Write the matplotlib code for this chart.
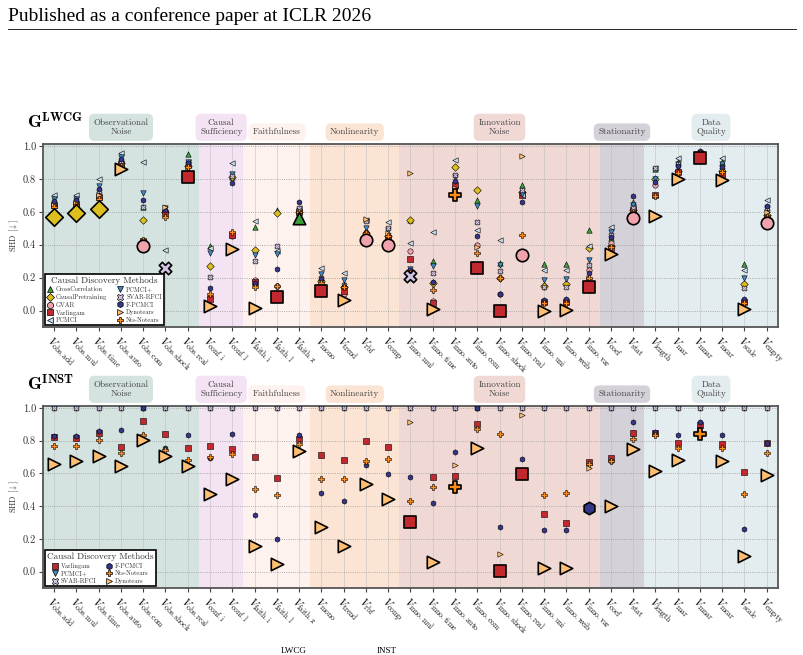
import numpy as np
import matplotlib.pyplot as plt
from matplotlib.lines import Line2D
from matplotlib.transforms import ScaledTranslation, blended_transform_factory

plt.rcParams['mathtext.fontset'] = 'cm'
plt.rcParams['font.family'] = 'cmr10'
plt.rcParams['axes.formatter.use_mathtext'] = True

# x categories (data-generating variants)
variants = ['obs.add', 'obs.mul', 'obs.time', 'obs.auto', 'obs.com', 'obs.shock', 'obs.real',
            'conf.i', 'conf.l', 'faith.i', 'faith.l', 'faith.z',
            'mono', 'trend', 'rbf', 'comp',
            'inno.mul', 'inno.time', 'inno.auto', 'inno.com', 'inno.shock', 'inno.real',
            'inno.uni', 'inno.weib', 'inno.var',
            'coef', 'stat',
            'length', 'mar', 'mnar', 'mcar', 'scale', 'empty']

group_names = ['Observational\nNoise', 'Causal\nSufficiency', 'Faithfulness', 'Nonlinearity',
               'Innovation\nNoise', 'Stationarity', 'Data\nQuality']
group_sizes = [7, 2, 3, 4, 9, 2, 6]
group_colors = ['#d5e3e0', '#f3e3f3', '#fdf2ee', '#fbe4d3', '#f0d9d5', '#d4d1d8', '#e3ecee']

# SHD values, G^LWCG panel
lwcg_crosscorr = [0.66, 0.66, 0.70, 0.90, 0.63, 0.62, 0.95, 0.39, 0.81, 0.51, 0.61, 0.56, 0.20, 0.16, 0.48, 0.46,
                  0.55, 0.30, 0.76, 0.67, 0.29, 0.76, 0.28, 0.28, 0.49, 0.44, 0.66, 0.86, 0.90, 0.96, 0.90, 0.28, 0.62]
lwcg_causalpre = [0.57, 0.59, 0.615, 0.895, 0.55, 0.60, 0.88, 0.27, 0.81, 0.37, 0.59, 0.60, 0.18, 0.14, 0.47, 0.45,
                  0.55, 0.17, 0.87, 0.73, 0.20, 0.72, 0.15, 0.16, 0.38, 0.39, 0.61, 0.80, 0.85, 0.95, 0.85, 0.16, 0.58]
lwcg_gvar = [0.64, 0.65, 0.69, 0.88, 0.39, 0.60, 0.88, 0.08, 0.45, 0.185, 0.15, 0.59, 0.15, 0.10, 0.43, 0.40,
             0.36, 0.06, 0.75, 0.40, 0.10, 0.34, 0.06, 0.06, 0.245, 0.41, 0.56, 0.76, 0.84, 0.94, 0.82, 0.06, 0.53]
lwcg_varlingam = [0.64, 0.65, 0.69, 0.89, 0.42, 0.59, 0.81, 0.067, 0.46, 0.175, 0.083, 0.60, 0.118, 0.12, 0.46, 0.44,
                  0.316, 0.047, 0.76, 0.26, 0.0, 0.70, 0.05, 0.05, 0.14, 0.38, 0.61, 0.70, 0.84, 0.925, 0.83, 0.05, 0.56]
lwcg_pcmci = [0.70, 0.70, 0.80, 0.96, 0.905, 0.37, 0.90, 0.38, 0.895, 0.546, 0.36, 0.62, 0.26, 0.23, 0.55, 0.535,
              0.41, 0.475, 0.915, 0.49, 0.428, 0.70, 0.245, 0.245, 0.394, 0.505, 0.63, 0.868, 0.925, 0.96, 0.925, 0.245, 0.671]
lwcg_pcmciplus = [0.675, 0.68, 0.757, 0.93, 0.712, 0.62, 0.90, 0.347, 0.83, 0.337, 0.343, 0.605, 0.22, 0.185, 0.503, 0.49,
                  0.255, 0.27, 0.813, 0.635, 0.276, 0.708, 0.185, 0.19, 0.31, 0.475, 0.64, 0.797, 0.888, 0.96, 0.888, 0.195, 0.62]
lwcg_svarrfci = [0.655, 0.665, 0.726, 0.91, 0.627, 0.26, 0.89, 0.205, 0.82, 0.298, 0.39, 0.62, 0.20, 0.155, 0.544, 0.503,
                 0.21, 0.23, 0.823, 0.535, 0.24, 0.732, 0.144, 0.144, 0.276, 0.46, 0.625, 0.868, 0.89, 0.95, 0.87, 0.134, 0.62]
lwcg_fpcmci = [0.665, 0.67, 0.74, 0.92, 0.67, 0.61, 0.895, 0.134, 0.773, 0.168, 0.25, 0.657, 0.19, 0.144, 0.48, 0.45,
               0.245, 0.174, 0.787, 0.45, 0.10, 0.661, 0.063, 0.067, 0.23, 0.448, 0.696, 0.783, 0.88, 0.97, 0.874, 0.067, 0.635]
lwcg_dynotears = [0.64, 0.655, 0.70, 0.86, 0.41, 0.63, 0.87, 0.03, 0.375, 0.018, 0.10, 0.60, 0.14, 0.063, 0.556, 0.47,
                  0.838, 0.012, 0.746, 0.387, 0.02, 0.94, 0.0, 0.006, 0.20, 0.343, 0.60, 0.576, 0.80, 0.95, 0.793, 0.012, 0.60]
lwcg_ntsnotears = [0.63, 0.64, 0.675, 0.88, 0.43, 0.57, 0.875, 0.10, 0.48, 0.144, 0.148, 0.60, 0.168, 0.14, 0.47, 0.45,
                   0.23, 0.124, 0.70, 0.35, 0.20, 0.458, 0.043, 0.047, 0.20, 0.387, 0.60, 0.698, 0.838, 0.96, 0.84, 0.043, 0.57]

# SHD values, G^INST panel
inst_varlingam = [0.823, 0.817, 0.847, 0.759, 0.918, 0.843, 0.757, 0.769, 0.747, 0.699, 0.572, 0.809, 0.713, 0.683, 0.797, 0.759,
                  0.301, 0.578, 0.586, 0.904, 0.006, 0.596, 0.351, 0.297, 0.669, 0.697, 0.847, 0.847, 0.787, 0.894, 0.779, 0.608, 0.787]
inst_pcmciplus = [1.0] * 33
inst_svarrfci = [1.0] * 33
inst_fpcmci = [0.83, 0.83, 0.857, 0.863, 1.0, 0.757, 0.837, 0.697, 0.839, 0.347, 0.20, 0.837, 0.482, 0.432, 0.653, 0.596,
               0.576, 0.422, 0.733, 1.0, 0.275, 0.689, 0.255, 0.255, 0.388, 0.673, 0.914, 0.853, 0.837, 0.914, 0.833, 0.261, 0.787]
inst_ntsnotears = [0.767, 0.769, 0.803, 0.727, 0.833, 0.743, 0.683, 0.699, 0.717, 0.502, 0.468, 0.777, 0.566, 0.566, 0.677, 0.687,
                   0.432, 0.516, 0.518, 0.873, 0.839, 0.61, 0.468, 0.482, 0.659, 0.673, 0.813, 0.833, 0.753, 0.843, 0.753, 0.476, 0.723]
inst_dynotears = [0.659, 0.677, 0.707, 0.643, 0.803, 0.709, 0.643, 0.476, 0.568, 0.157, 0.046, 0.739, 0.275, 0.157, 0.536, 0.446,
                  0.914, 0.056, 0.653, 0.753, 0.11, 0.954, 0.02, 0.02, 0.633, 0.398, 0.747, 0.612, 0.683, 0.85, 0.673, 0.094, 0.592]

# marker / colour per method
styles = {
    'CrossCorrelation': ('^', '#3a9e3a'),
    'CausalPretraining': ('D', '#dcbe1e'),
    'GVAR': ('o', '#f0a3ac'),
    'Varlingam': ('s', '#c1292f'),
    'PCMCI': ('<', '#c9ddee'),
    'PCMCI+': ('v', '#3f88c5'),
    'SVAR-RFCI': ('X', '#d3c3e3'),
    'F-PCMCI': ('h', '#35358a'),
    'Dynotears': ('>', '#ffbf73'),
    'Nts-Notears': ('P', '#ff8c1a'),
}

lwcg = {
    'CrossCorrelation': lwcg_crosscorr, 'CausalPretraining': lwcg_causalpre, 'GVAR': lwcg_gvar,
    'Varlingam': lwcg_varlingam, 'PCMCI': lwcg_pcmci, 'PCMCI+': lwcg_pcmciplus,
    'SVAR-RFCI': lwcg_svarrfci, 'F-PCMCI': lwcg_fpcmci, 'Dynotears': lwcg_dynotears,
    'Nts-Notears': lwcg_ntsnotears,
}
inst = {
    'Varlingam': inst_varlingam, 'PCMCI+': inst_pcmciplus, 'SVAR-RFCI': inst_svarrfci,
    'F-PCMCI': inst_fpcmci, 'Nts-Notears': inst_ntsnotears, 'Dynotears': inst_dynotears,
}


def draw_panel(fig, ax, data, title, title_y):
    x = np.arange(len(variants))
    blend = blended_transform_factory(ax.transData, ax.transAxes)
    lift = ScaledTranslation(0, 5.5 / 72, fig.dpi_scale_trans)

    # shaded groups with their labels on top
    start = -0.5
    for name, n, col in zip(group_names, group_sizes, group_colors):
        ax.axvspan(start, start + n, color=col, lw=0, zorder=0)
        ax.text(start + n / 2, 1.0, name, transform=blend + lift, ha='center', va='bottom',
                fontsize=6.5, color='#444444', linespacing=1.2,
                bbox=dict(boxstyle='round,pad=0.5,rounding_size=0.6', fc=col, ec='none'))
        start += n

    names = list(data.keys())
    vals = np.array([data[m] for m in names])
    best = np.argmin(vals, axis=0)

    for i, m in enumerate(names):
        mk, col = styles[m]
        keep = best != i
        ax.scatter(x[keep], vals[i][keep], marker=mk, s=15, c=col, edgecolors='black',
                   linewidths=0.4, zorder=3)
    for i, m in enumerate(names):
        mk, col = styles[m]
        keep = best == i
        ax.scatter(x[keep], vals[i][keep], marker=mk, s=80, c=col, edgecolors='black',
                   linewidths=1.2, zorder=4)

    ax.set_xlim(-0.5, 32.5)
    ax.set_ylim(-0.1, 1.012)
    ax.set_yticks(np.arange(0, 1.01, 0.2))
    ax.set_yticklabels([f'{v:.1f}' for v in np.arange(0, 1.01, 0.2)], fontsize=7.5, color='#333333')
    ax.set_xticks(x)
    ax.set_xticklabels([r'$V_{\mathrm{' + v + '}}$' for v in variants], rotation=-45, ha='left',
                       va='top', rotation_mode='anchor', fontsize=7.8)
    ax.tick_params(axis='both', length=3, width=0.8, color='#444444', pad=2)
    ax.set_ylabel(r'SHD $[\downarrow]$', fontsize=6, color='#333333', labelpad=1.5)

    ax.set_axisbelow(True)
    ax.grid(axis='y', ls=':', color='#999999', lw=0.6)
    ax.grid(axis='x', ls='-', color='#bbbbbb', lw=0.5, alpha=0.7)
    for sp in ax.spines.values():
        sp.set_color('#555555')
        sp.set_linewidth(1.3)

    handles = [Line2D([], [], ls='none', marker=styles[m][0], color=styles[m][1], markeredgecolor='black',
                      markeredgewidth=0.5, markersize=4.5, label=m) for m in names]
    leg = ax.legend(handles=handles, ncol=2, loc='lower left', fontsize=4.6, title='Causal Discovery Methods',
                    title_fontsize=6.6, frameon=True, fancybox=False, framealpha=1, edgecolor='black',
                    borderaxespad=0.25, handletextpad=0.4, columnspacing=1.6, labelspacing=0.28,
                    borderpad=0.35, handlelength=1.0)
    leg.get_frame().set_linewidth(1.2)
    leg.get_title().set_color('#333333')
    for t in leg.get_texts():
        t.set_color('#333333')

    fig.text(27 / 804, title_y, title, fontsize=13, va='baseline', ha='left')


fig = plt.figure(figsize=(8.04, 6.55), dpi=100)

fig.text(8 / 804, 1 - 21 / 655, 'Published as a conference paper at ICLR 2026',
         family='Liberation Serif', fontsize=14, va='baseline')
fig.add_artist(Line2D([8 / 804, 796 / 804], [1 - 28.5 / 655] * 2, transform=fig.transFigure,
                      color='black', lw=0.6))

ax1 = fig.add_axes([0.0535, 0.5008, 0.914, 0.2794])
draw_panel(fig, ax1, lwcg, r'$\mathbf{G}^{\mathbf{LWCG}}$', 1 - 128 / 655)

ax2 = fig.add_axes([0.0535, 0.1023, 0.914, 0.2779])
draw_panel(fig, ax2, inst, r'$\mathbf{G}^{\mathbf{INST}}$', 1 - 390 / 655)

# start of the caption line at the page crop
fig.text(281 / 804, 2 / 655, 'LWCG', family='Liberation Serif', fontsize=6.5, va='baseline')
fig.text(377 / 804, 2 / 655, 'INST', family='Liberation Serif', fontsize=6.5, va='baseline')

fig.savefig('out.png', dpi=100)
